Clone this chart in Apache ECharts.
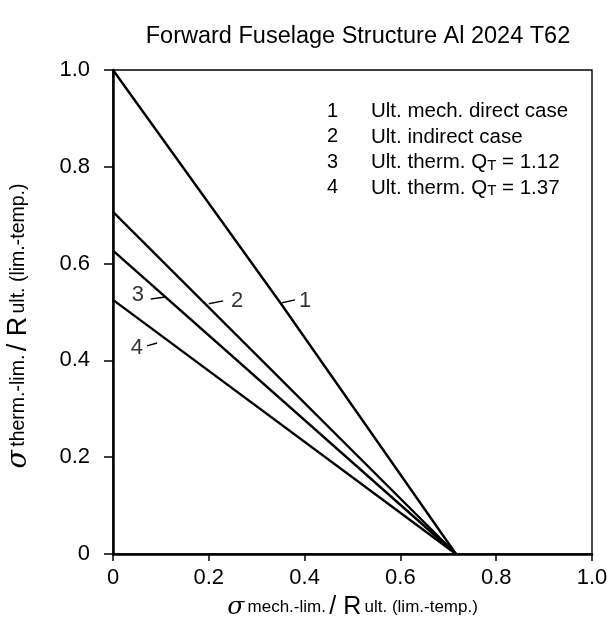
<!DOCTYPE html>
<html>
<head>
<meta charset="utf-8">
<script src="https://cdn.jsdelivr.net/npm/echarts@6/dist/echarts.min.js"></script>
<style>
  html, body { margin: 0; padding: 0; background: #fff; }
  #chart { width: 608px; height: 636px; }
</style>
</head>
<body>
<div id="chart"></div>
<script>
// Interaction lines: [mechanical ratio, thermal ratio] pairs
const line1 = [[0, 1.0], [0.35, 0.518], [0.716, 0]];
const line2 = [[0, 0.707], [0.716, 0]];
const line3 = [[0, 0.627], [0.716, 0]];
const line4 = [[0, 0.525], [0.716, 0]];

// Curve number tags: [x, y, text] and their leader strokes
const curveTags = [[0.401, 0.523, '1'], [0.259, 0.523, '2'], [0.052, 0.535, '3'], [0.050, 0.426, '4']];
const tagLeaders = [
  [[0.353, 0.519], [0.380, 0.525]],
  [[0.200, 0.517], [0.230, 0.523]],
  [[0.079, 0.527], [0.109, 0.531]],
  [[0.071, 0.430], [0.092, 0.436]]
];

// Key entries
const keyNums = ['1', '2', '3', '4'];
const keyTexts = [
  'Ult. mech. direct case',
  'Ult. indirect case',
  'Ult. therm. {q|Q}{t|T} = 1.12',
  'Ult. therm. {q|Q}{t|T} = 1.37'
];

const xTicks = [0, 0.2, 0.4, 0.6, 0.8, 1.0];
const yTicks = [0, 0.2, 0.4, 0.6, 0.8, 1.0];

const FONT = '"Liberation Sans", Arial, Helvetica, sans-serif';

const chart = echarts.init(document.getElementById('chart'));

function curve(data) {
  return {
    type: 'line',
    data: data,
    showSymbol: false,
    symbol: 'none',
    silent: true,
    lineStyle: { color: '#000', width: 2.4 },
    z: 3
  };
}

const keyGraphics = [];
keyNums.forEach((n, i) => {
  keyGraphics.push({
    type: 'text', left: 327, top: 101 + i * 25.5,
    style: { text: n, font: '20px ' + FONT, fill: '#000' }
  });
  keyGraphics.push({
    type: 'text', left: 371, top: 101 + i * 25.5,
    style: {
      text: keyTexts[i], font: '20.5px ' + FONT, fill: '#000',
      rich: {
        q: { fontSize: 20.5, fontFamily: FONT, fill: '#000' },
        t: { fontSize: 15, fontFamily: FONT, fill: '#000', verticalAlign: 'bottom' }
      }
    }
  });
});

const labelFmt = v => (v === 0 ? '0' : v.toFixed(1));

function axisTitleRich(small, big) {
  return {
    s: { fontFamily: '"DejaVu Serif", serif', fontStyle: 'italic', fontSize: big, color: '#000' },
    m: { fontFamily: FONT, fontSize: small, color: '#000' },
    r: { fontFamily: FONT, fontSize: big, color: '#000' }
  };
}

chart.setOption({
  animation: false,
  backgroundColor: '#fff',
  title: {
    text: 'Forward Fuselage Structure Al 2024 T62',
    left: 353, top: 20, textAlign: 'center',
    textStyle: { fontFamily: FONT, fontSize: 23.5, fontWeight: 'normal', color: '#000' }
  },
  grid: {
    left: 113, right: 16, top: 70, bottom: 82,
    containLabel: false, outerBoundsMode: 'none',
    show: true, borderColor: '#000', borderWidth: 1.4, backgroundColor: 'transparent'
  },
  xAxis: {
    type: 'value', min: 0, max: 1, interval: 0.2,
    name: '{s|σ} {m|mech.-lim.} {r|/ R} {m|ult. (lim.-temp.)}',
    nameLocation: 'middle', nameGap: 41,
    nameTextStyle: { rich: axisTitleRich(17, 25) },
    axisLine: { onZero: false, lineStyle: { color: '#000', width: 2.5 } },
    axisTick: { show: true, inside: false, length: 7, lineStyle: { color: '#000', width: 1.5 } },
    axisLabel: { formatter: labelFmt, fontFamily: FONT, fontSize: 22, color: '#000', margin: 13 },
    splitLine: { show: false }
  },
  yAxis: {
    type: 'value', min: 0, max: 1, interval: 0.2,
    name: '{s|σ} {m|therm.-lim.} {r|/ R} {m|ult. (lim.-temp.)}',
    nameLocation: 'middle', nameGap: 81, nameRotate: 90,
    nameTextStyle: { rich: axisTitleRich(19.5, 27), padding: [0, 28, 0, 0] },
    axisLine: { onZero: false, lineStyle: { color: '#000', width: 2.5 } },
    axisTick: { show: true, inside: false, length: 9, lineStyle: { color: '#000', width: 1.5 } },
    axisLabel: { formatter: labelFmt, fontFamily: FONT, fontSize: 22, color: '#000', margin: 23 },
    splitLine: { show: false }
  },
  graphic: keyGraphics,
  series: [
    curve(line1),
    curve(line2),
    curve(line3),
    curve(line4),
    {
      type: 'scatter',
      data: curveTags,
      symbolSize: 0,
      silent: true,
      label: {
        show: true, position: 'inside',
        formatter: p => p.data[2],
        fontFamily: FONT, fontSize: 22, color: '#000'
      },
      markLine: {
        silent: true, symbol: 'none',
        label: { show: false },
        lineStyle: { color: '#000', width: 1.4, type: 'solid' },
        data: tagLeaders.map(seg => [{ coord: seg[0] }, { coord: seg[1] }])
      }
    }
  ]
});
</script>
</body>
</html>
